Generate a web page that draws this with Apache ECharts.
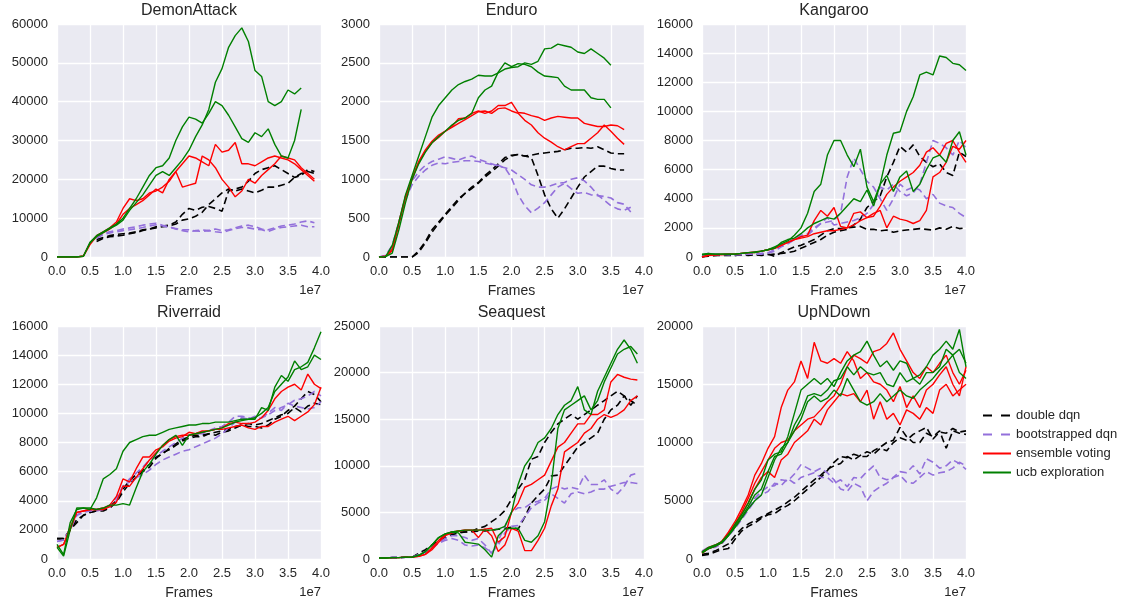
<!DOCTYPE html>
<html>
<head>
<meta charset="utf-8">
<script src="https://cdn.jsdelivr.net/npm/echarts@6/dist/echarts.min.js"></script>
<style>
html, body { margin: 0; padding: 0; background: #fff; }
#main { width: 1125px; height: 604px; }
</style>
</head>
<body>
<div id="main"></div>
<script>
// frames, in units of 1e7
var frames = [0.0,0.1,0.2,0.3,0.4,0.5,0.6,0.7,0.8,0.9,1.0,1.1,1.2,1.3,1.4,1.5,1.6,1.7,1.8,1.9,
              2.0,2.1,2.2,2.3,2.4,2.5,2.6,2.7,2.8,2.9,3.0,3.1,3.2,3.3,3.4,3.5,3.6,3.7,3.8,3.9,4.0];
var methodNames = ['double dqn', 'bootstrapped dqn', 'ensemble voting', 'ucb exploration'];
var gameNames = ['DemonAttack', 'Enduro', 'Kangaroo', 'Riverraid', 'Seaquest', 'UpNDown'];
var yMax = [60000, 3000, 16000, 16000, 25000, 20000];
var yStep = [10000, 500, 2000, 2000, 5000, 5000];

// ---- DemonAttack ----
var demonDouble = [
  [null,null,null,null,null,null,4500,5000,5500,5800,
   6000,6200,6500,7000,7200,7800,8000,8200,9000,11000,
   12500,12000,12800,13000,12500,11800,17000,17500,18000,19500,
   21500,22500,23000,23500,22500,21500,20500,21000,22500,22000],
  [null,null,null,null,null,null,4000,4800,5200,5400,
   5600,6000,6300,6800,7200,7500,7800,8000,8500,9500,
   9800,10500,11500,13500,15000,16500,17500,17000,17500,17000,
   16500,17200,18000,18000,18500,19000,20500,21500,22000,21500]
];
var demonBoot = [
  [null,null,null,null,null,null,5000,6000,6500,6800,
   7200,7500,7800,8200,8500,8700,8200,7800,7200,6800,
   6500,6800,7000,6800,7200,6800,7000,7500,8000,8200,
   7800,7200,7000,7500,8000,8200,8500,9000,9300,8800],
  [null,null,null,null,null,null,4800,5800,6200,6500,
   6800,7000,7300,7600,8000,8300,8000,7600,7300,7000,
   7000,6700,6600,6800,6500,6300,6800,7300,7600,7500,
   7200,7000,6600,7200,7600,7800,8000,8200,7800,7800]
];
var demonEnsemble = [
  [0,0,0,0,300,3500,5500,6500,7500,9000,
   12500,15000,14500,15000,16500,17000,18000,19500,22000,24000,
   26000,25500,24500,23500,29000,27000,27500,29500,24000,24000,
   23500,24500,25500,26000,25500,25000,24000,22500,21000,19500],
  [0,0,0,0,200,3200,5300,6300,7200,8500,
   11000,12500,13500,14500,16000,17500,16500,20000,22000,18000,
   18500,19000,26000,25000,23000,20000,18000,15500,17000,20000,
   19000,21000,22500,24000,26000,25500,25000,23000,21500,20000]
];
var demonUcb = [
  [0,0,0,0,200,3800,5500,6500,7500,8500,
   10000,12500,15000,18000,21000,23000,23500,25500,30000,33500,
   36000,35500,34500,37000,40000,39000,36500,33500,30500,29500,
   32000,31000,33000,29000,26000,25500,30000,38000],
  [0,0,0,0,200,3600,5300,6300,7300,8200,
   9500,12000,14000,16000,18500,21000,22000,21000,23000,25000,
   27500,31000,34000,38000,45000,48500,54000,57000,59000,55500,
   48000,46500,40000,39000,40000,43000,42000,43500]
];

// ---- Enduro ----
var enduroDouble = [
  [0,0,0,0,0,0,80,200,350,450,
   550,650,750,820,900,960,1050,1120,1200,1280,
   1310,1320,1300,1310,1330,1340,1350,1360,1380,1400,
   1400,1410,1400,1420,1380,1340,1330,1330],
  [0,0,0,0,0,0,60,180,320,430,
   540,630,730,820,880,950,1030,1100,1170,1250,
   1300,1320,1300,1280,1050,800,620,500,620,760,
   900,1030,1100,1170,1170,1140,1120,1120]
];
var enduroBoot = [
  [0,20,150,450,780,980,1100,1180,1230,1260,
   1290,1270,1250,1280,1300,1260,1230,1200,1170,1150,
   1120,1060,1000,930,900,900,920,950,960,1000,
   1020,980,900,800,730,660,620,600,640],
  [0,20,130,420,740,930,1040,1120,1180,1210,
   1200,1220,1230,1240,1240,1230,1210,1190,1180,1150,
   1020,800,660,570,630,700,800,900,950,880,
   820,830,800,790,780,760,700,680,580]
];
var enduroEnsemble = [
  [0,10,100,450,780,1020,1230,1380,1490,1570,
   1620,1680,1780,1790,1850,1880,1850,1880,1950,1950,
   1990,1860,1850,1820,1800,1760,1790,1810,1800,1790,
   1790,1720,1700,1680,1680,1700,1690,1640],
  [0,10,80,420,760,1000,1220,1360,1470,1540,
   1620,1670,1720,1770,1820,1870,1880,1850,1910,1920,
   1880,1850,1760,1700,1600,1530,1480,1420,1380,1420,
   1460,1460,1530,1600,1700,1620,1530,1450]
];
var enduroUcb = [
  [0,5,150,450,800,1050,1300,1550,1800,1950,
   2050,2150,2220,2260,2290,2340,2330,2330,2370,2420,
   2440,2450,2500,2480,2520,2680,2690,2740,2720,2700,
   2640,2620,2680,2620,2560,2470],
  [0,5,50,350,700,1000,1200,1350,1470,1550,
   1620,1700,1760,1790,1850,2050,2150,2200,2380,2500,
   2450,2490,2480,2450,2380,2330,2320,2310,2200,2150,
   2150,2150,2050,2030,2030,1920]
];

// ---- Kangaroo ----
var kangDouble = [
  [0,100,100,150,150,100,150,200,150,200,
   200,50,300,500,700,800,1000,1200,1500,1800,
   1950,1950,2000,2050,2100,1900,1900,1800,1850,1700,
   1800,1850,1900,1950,1900,1850,2000,1900,2100,1950,2000],
  [0,50,100,100,100,100,150,100,150,100,
   150,200,250,300,400,600,800,1000,1200,1500,
   1700,1800,1900,2200,2600,3400,3800,4200,5500,6500,
   7600,7200,7700,6900,6500,6200,6400,5800,5600,7200,6900]
];
var kangBoot = [
  [100,250,150,200,150,150,200,200,250,250,
   300,500,800,1000,1300,1500,1600,2000,2300,2400,
   2500,3000,5500,6800,6000,5200,4800,4000,3200,4000,
   5000,4600,4800,4600,4000,4300,3700,3500,3400,3000,2700],
  [100,150,200,150,200,150,150,200,200,200,
   250,400,700,900,1200,1400,1500,1900,2300,2700,
   2200,2300,2400,2500,2700,3000,3600,4800,4600,5000,
   4500,4200,4400,5000,6500,8000,7800,7500,7000,8000,7500]
];
var kangEnsemble = [
  [0,150,150,200,200,200,250,300,350,400,
   500,600,800,1000,1200,1400,1500,2500,3200,2800,
   3400,2100,2000,3000,3100,2700,2800,3500,4300,4800,
   5200,5500,5800,6300,7200,7500,7000,7800,8000,7200,6500],
  [0,100,150,150,200,200,250,300,300,400,
   500,600,800,1000,1200,1300,1400,1600,1700,1800,
   1800,1900,2000,2200,2500,2700,3000,3200,2000,2800,
   2600,2500,2300,2500,3200,5500,5800,6500,7600,7400,8000]
];
var kangUcb = [
  [200,250,200,200,200,200,250,300,350,400,
   500,700,900,1100,1500,2000,3000,4500,5000,7000,
   8000,8000,7000,6200,7400,4800,3800,5000,7000,8500,
   8600,10000,11000,12500,12700,12500,13800,13700,13300,13200,12800],
  [150,200,200,200,200,200,250,300,300,400,
   500,600,1000,1200,1300,1600,2000,2300,2500,2700,
   2600,3000,3500,4000,3800,4600,3500,5000,5600,4500,
   5500,5900,4500,5000,6000,6800,7000,6500,8000,8600,7000]
];

// ---- Riverraid ----
var rivDouble = [
  [1400,1400,2000,2500,3000,3200,3300,3300,3500,3900,
   4600,5200,5600,6000,6300,6900,7300,7500,7800,8100,
   8300,8400,8400,8600,8500,8700,8800,9000,9200,9100,
   9100,9000,9200,9600,9800,10200,10500,11000,11500,11300,10800],
  [1400,1400,2000,2700,3000,3200,3300,3400,3600,4000,
   4800,5400,5800,6100,6500,7000,7200,7600,7900,8200,
   8400,8500,8500,8600,8700,8800,8900,9100,9200,9300,
   9200,9300,9500,9700,9900,10000,10400,10100,10500,10700,10600]
];
var rivBoot = [
  [1200,1300,2000,3000,3300,3300,3400,3500,3600,4000,
   5000,5300,5600,5800,6100,6500,6800,7000,7200,7400,
   7500,7700,7900,8100,8300,8600,9000,9400,9700,9600,
   9800,9700,10000,10400,10200,10700,10500,10400,10300,10400,10800],
  [1200,1300,2100,3000,3200,3300,3300,3400,3700,4200,
   5000,5500,5900,6300,6800,7100,7400,7700,8000,8300,
   8500,8600,8600,8800,9000,9100,9400,9800,9800,9700,
   9600,9700,9900,10200,10400,10600,10900,11000,11200,11500,11200]
];
var rivEnsemble = [
  [800,1000,2000,3200,3300,3400,3400,3500,3700,4300,
   5500,5300,6200,7000,7000,7500,7700,8100,8300,8400,
   8700,8600,8700,8800,8900,9000,9300,9400,9300,9300,
   9400,9700,10200,11000,11500,11800,12000,11600,12700,12000,11700],
  [800,1000,2200,3200,3300,3400,3400,3400,3600,3900,
   5000,5000,5600,6200,6800,7300,7800,8200,8400,8500,
   8500,8600,8800,8800,8900,8900,9000,9100,9200,9000,
   8900,9100,9100,9400,9600,9800,9500,9800,10100,10600,11800]
];
var rivUcb = [
  [1000,300,2500,3400,3500,3400,4200,5500,5800,6200,
   7400,8000,8200,8400,8500,8500,8700,8900,9000,9100,
   9200,9200,9300,9300,9400,9400,9400,9500,9600,9600,
   9700,10000,10400,11500,12000,12500,13600,13000,13200,14000,13700],
  [800,200,2000,3500,3500,3500,3400,3500,3700,3700,
   3800,3700,4900,6000,6500,7200,7800,8200,8500,7800,
   8500,8600,8700,8800,8900,9000,9200,9400,9500,9600,
   9600,10400,10200,11800,12600,12200,13000,13200,13500,14500,15600]
];

// ---- Seaquest ----
var seaDouble = [
  [100,100,150,150,200,200,600,1000,1500,2000,
   2500,2800,2900,2900,3000,3300,3500,4000,4500,5200,
   6400,7500,8500,10700,11000,12500,13600,14500,15000,15500,
   15000,15500,16000,16500,17000,17500,18000,17500,17000,16500],
  [100,100,150,150,200,200,500,800,1200,1800,
   2300,2600,2800,2900,2900,3000,3000,3100,3200,3300,
   3400,3200,4500,6000,6800,7500,8900,9000,10000,11000,
   12000,12500,13000,13500,15000,16000,16500,17500,16500,17500]
];
var seaBoot = [
  [100,100,150,150,200,200,500,800,1300,1800,
   2200,2500,2500,2300,2000,2200,1500,600,2000,3500,
   5000,5500,5500,6000,6200,6500,7500,7800,7500,7700,
   7500,9000,8000,8000,8500,7500,7000,7800,9000,9200],
  [100,100,150,150,200,200,400,700,1200,1700,
   2000,2200,2000,1500,1400,1500,1200,700,1500,2800,
   3500,3600,4500,5500,6000,6300,7000,6500,6000,7000,
   7200,7000,7200,7500,7500,7800,8000,8200,8200,8100]
];
var seaEnsemble = [
  [100,100,150,150,200,200,300,500,1200,2000,
   2600,2900,3000,3100,3100,2300,3200,3300,1800,2400,
   5000,6000,7700,8000,8500,9000,10500,12000,12500,13500,
   14500,14500,15500,15500,16000,19000,19800,19500,19300,19200],
  [100,100,150,150,200,200,300,500,1000,1800,
   2500,2800,3000,3100,3100,3100,3200,2500,800,1500,
   3300,3000,900,900,2000,3300,5700,7500,11500,12000,
   12500,13500,14000,15000,15500,15200,15500,16000,17000,17500]
];
var seaUcb = [
  [100,100,150,150,200,200,400,800,1500,2300,
   2700,2900,3000,3100,3100,3100,3100,3100,3200,3500,
   5000,8000,10000,11000,12500,13000,14000,15500,16500,17000,
   18500,16000,15500,18000,19500,21000,22500,23500,22500,21000],
  [100,100,150,150,200,200,400,800,1500,2300,
   2700,2900,2800,1800,1700,1600,1000,200,2500,3200,
   3300,3300,2000,1800,2500,4000,8000,14000,16000,16500,
   17000,17500,16000,17000,19000,20500,22000,22500,22800,22000]
];

// ---- UpNDown ----
var upDouble = [
  [300,400,600,800,900,1700,2400,2800,3100,3500,
   3800,3900,4300,4600,5000,5500,6000,6500,7000,7600,
   8300,8800,8700,9000,8800,8800,9300,9600,10000,10200,
   11300,10500,10000,10000,10800,10500,11000,9500,11000,10800,10700],
  [400,500,700,1000,1300,2000,2600,3000,3300,3600,
   3900,4200,4500,4900,5300,5800,6300,6800,7200,7700,
   8000,8200,8800,8500,8900,9200,9000,9500,9300,10000,
   10400,10200,10700,11000,11300,10300,10900,10800,11200,10900,11000]
];
var upBoot = [
  [700,1000,1000,1300,2000,2800,3500,4300,5200,5800,
   6200,6300,6800,6700,7300,8100,7800,7500,7800,7400,
   6800,6000,5800,6500,6200,5000,5800,6200,6500,7000,
   7500,7400,8000,7300,8600,8300,7800,8000,8500,8200,7700],
  [600,900,1100,1400,2000,2600,3400,4200,5000,5500,
   5800,6500,6300,6900,6500,7000,7200,7400,7000,7000,
   6500,6800,6200,7000,6900,7500,8000,7000,6800,7000,
   7200,6600,6500,7000,7500,7200,7400,7500,7800,8300,8000]
];
var upEnsemble = [
  [500,900,1100,1500,2300,3200,4300,5500,7200,8200,
   9500,10500,13000,14500,15200,17000,15500,18600,17000,16800,
   17200,16800,17800,17000,15500,16000,15200,15000,14500,13500,
   14800,13000,14000,13000,14500,15000,15800,16500,15000,14000,16500],
  [600,1000,1200,1500,2200,3000,4000,5200,6500,7500,
   8500,9500,10000,10200,11000,11500,12000,12200,12800,13500,
   14000,15000,16500,17500,17200,16800,17800,18000,18500,19400,
   18000,17000,16000,15500,16500,16000,16800,17500,16000,15000,16200],
  [500,900,1100,1400,2100,2900,3800,4800,6000,7000,
   7500,7000,8500,9000,10000,10500,11000,12000,11500,12800,
   13500,14200,14000,14200,13500,14500,12000,13500,12000,12500,
   11500,12800,12500,12000,13000,12500,14500,15000,14000,14500,15000]
];
var upUcb = [
  [600,900,1100,1400,2000,3000,3800,4800,6000,6800,
   8500,9000,9200,10500,12500,14500,15000,15500,15000,15500,
   14800,16000,17000,17500,17800,18700,17500,16500,17000,16200,
   17000,16800,15500,15800,16500,17500,18000,18700,18000,19700,16500],
  [600,1000,1200,1500,2100,2800,3600,4500,5500,6000,
   7500,8800,9000,10000,11500,12500,14000,14200,14000,14500,
   15300,15500,16500,15800,16500,16000,15800,16000,15000,14800,
   16000,15200,15500,15000,16000,16000,16500,18000,17500,18000,16800],
  [500,900,1100,1400,2000,2700,3500,4300,5000,5500,
   7000,8500,9500,10000,11000,12000,13500,14000,13500,13800,
   14500,14000,15500,14500,13500,13200,13500,14200,13500,14000,
   14500,14000,13800,14500,15000,15500,16200,16800,17500,16000,15500]
];

var gameRuns = [
  [demonDouble, demonBoot, demonEnsemble, demonUcb],
  [enduroDouble, enduroBoot, enduroEnsemble, enduroUcb],
  [kangDouble, kangBoot, kangEnsemble, kangUcb],
  [rivDouble, rivBoot, rivEnsemble, rivUcb],
  [seaDouble, seaBoot, seaEnsemble, seaUcb],
  [upDouble, upBoot, upEnsemble, upUcb]
];

var methodColors = ['#000000', '#9370DB', '#FF0000', '#008000'];
var methodDashed = [true, true, false, false];

var FONT = 'Liberation Sans, Arial, sans-serif';
var TXT = '#262626';
var cells = [
  {left: 57, top: 24, width: 264, height: 233},
  {left: 379, top: 24, width: 265, height: 233},
  {left: 702, top: 24, width: 264, height: 233},
  {left: 57, top: 326, width: 264, height: 233},
  {left: 379, top: 326, width: 265, height: 233},
  {left: 702, top: 326, width: 264, height: 233}
];

var grids = [], xAxes = [], yAxes = [], series = [], graphics = [];

cells.forEach(function (c, g) {
  grids.push({
    left: c.left, top: c.top, width: c.width, height: c.height,
    show: true, backgroundColor: '#EAEAF2', borderWidth: 0,
    containLabel: false, outerBoundsMode: 'none'
  });
  xAxes.push({
    type: 'value', gridIndex: g, min: 0, max: 4, interval: 0.5,
    name: 'Frames', nameLocation: 'middle', nameGap: 27,
    nameTextStyle: {fontSize: 14, color: TXT, fontFamily: FONT},
    axisLine: {show: false}, axisTick: {show: false},
    axisLabel: {fontSize: 13, color: TXT, fontFamily: FONT, margin: 8,
      formatter: function (v) { return v.toFixed(1); }},
    splitLine: {show: true, lineStyle: {color: '#ffffff', width: 1.3}}
  });
  yAxes.push({
    type: 'value', gridIndex: g, min: 0, max: yMax[g], interval: yStep[g],
    axisLine: {show: false}, axisTick: {show: false},
    axisLabel: {fontSize: 13, color: TXT, fontFamily: FONT, margin: 9,
      formatter: function (v) { return String(v); }},
    splitLine: {show: true, lineStyle: {color: '#ffffff', width: 1.3}}
  });
  graphics.push({
    type: 'text', x: c.left + c.width / 2, y: c.top - 13,
    style: {text: gameNames[g], fill: TXT, font: '16px ' + FONT, align: 'center', verticalAlign: 'middle'}
  });
  graphics.push({
    type: 'text', x: c.left + c.width, y: c.top + c.height + 33,
    style: {text: '1e7', fill: TXT, font: '13px ' + FONT, align: 'right', verticalAlign: 'middle'}
  });
  gameRuns[g].forEach(function (runs, m) {
    runs.forEach(function (run) {
      var pts = [];
      run.forEach(function (v, i) { if (v !== null) pts.push([frames[i], v]); });
      series.push({
        name: methodNames[m], type: 'line', xAxisIndex: g, yAxisIndex: g,
        data: pts, symbol: 'none', silent: true, animation: false,
        lineStyle: {color: methodColors[m], width: methodDashed[m] ? 1.6 : 1.4,
                    type: methodDashed[m] ? [7, 4] : 'solid'},
        itemStyle: {color: methodColors[m]}
      });
    });
  });
});

var legendData = methodNames.map(function (n, m) {
  return {name: n, lineStyle: {width: 2, type: methodDashed[m] ? [9, 9] : 'solid'}};
});

var chart = echarts.init(document.getElementById('main'), null, {renderer: 'canvas'});
chart.setOption({
  backgroundColor: '#ffffff',
  animation: false,
  grid: grids,
  xAxis: xAxes,
  yAxis: yAxes,
  legend: {
    show: true, type: 'plain',
    data: legendData, orient: 'vertical', left: 977, top: 404,
    itemWidth: 28, itemHeight: 12, itemGap: 6, selectedMode: false,
    itemStyle: {opacity: 0},
    textStyle: {fontSize: 13, color: TXT, fontFamily: FONT}
  },
  graphic: graphics,
  series: series
});
</script>
</body>
</html>
